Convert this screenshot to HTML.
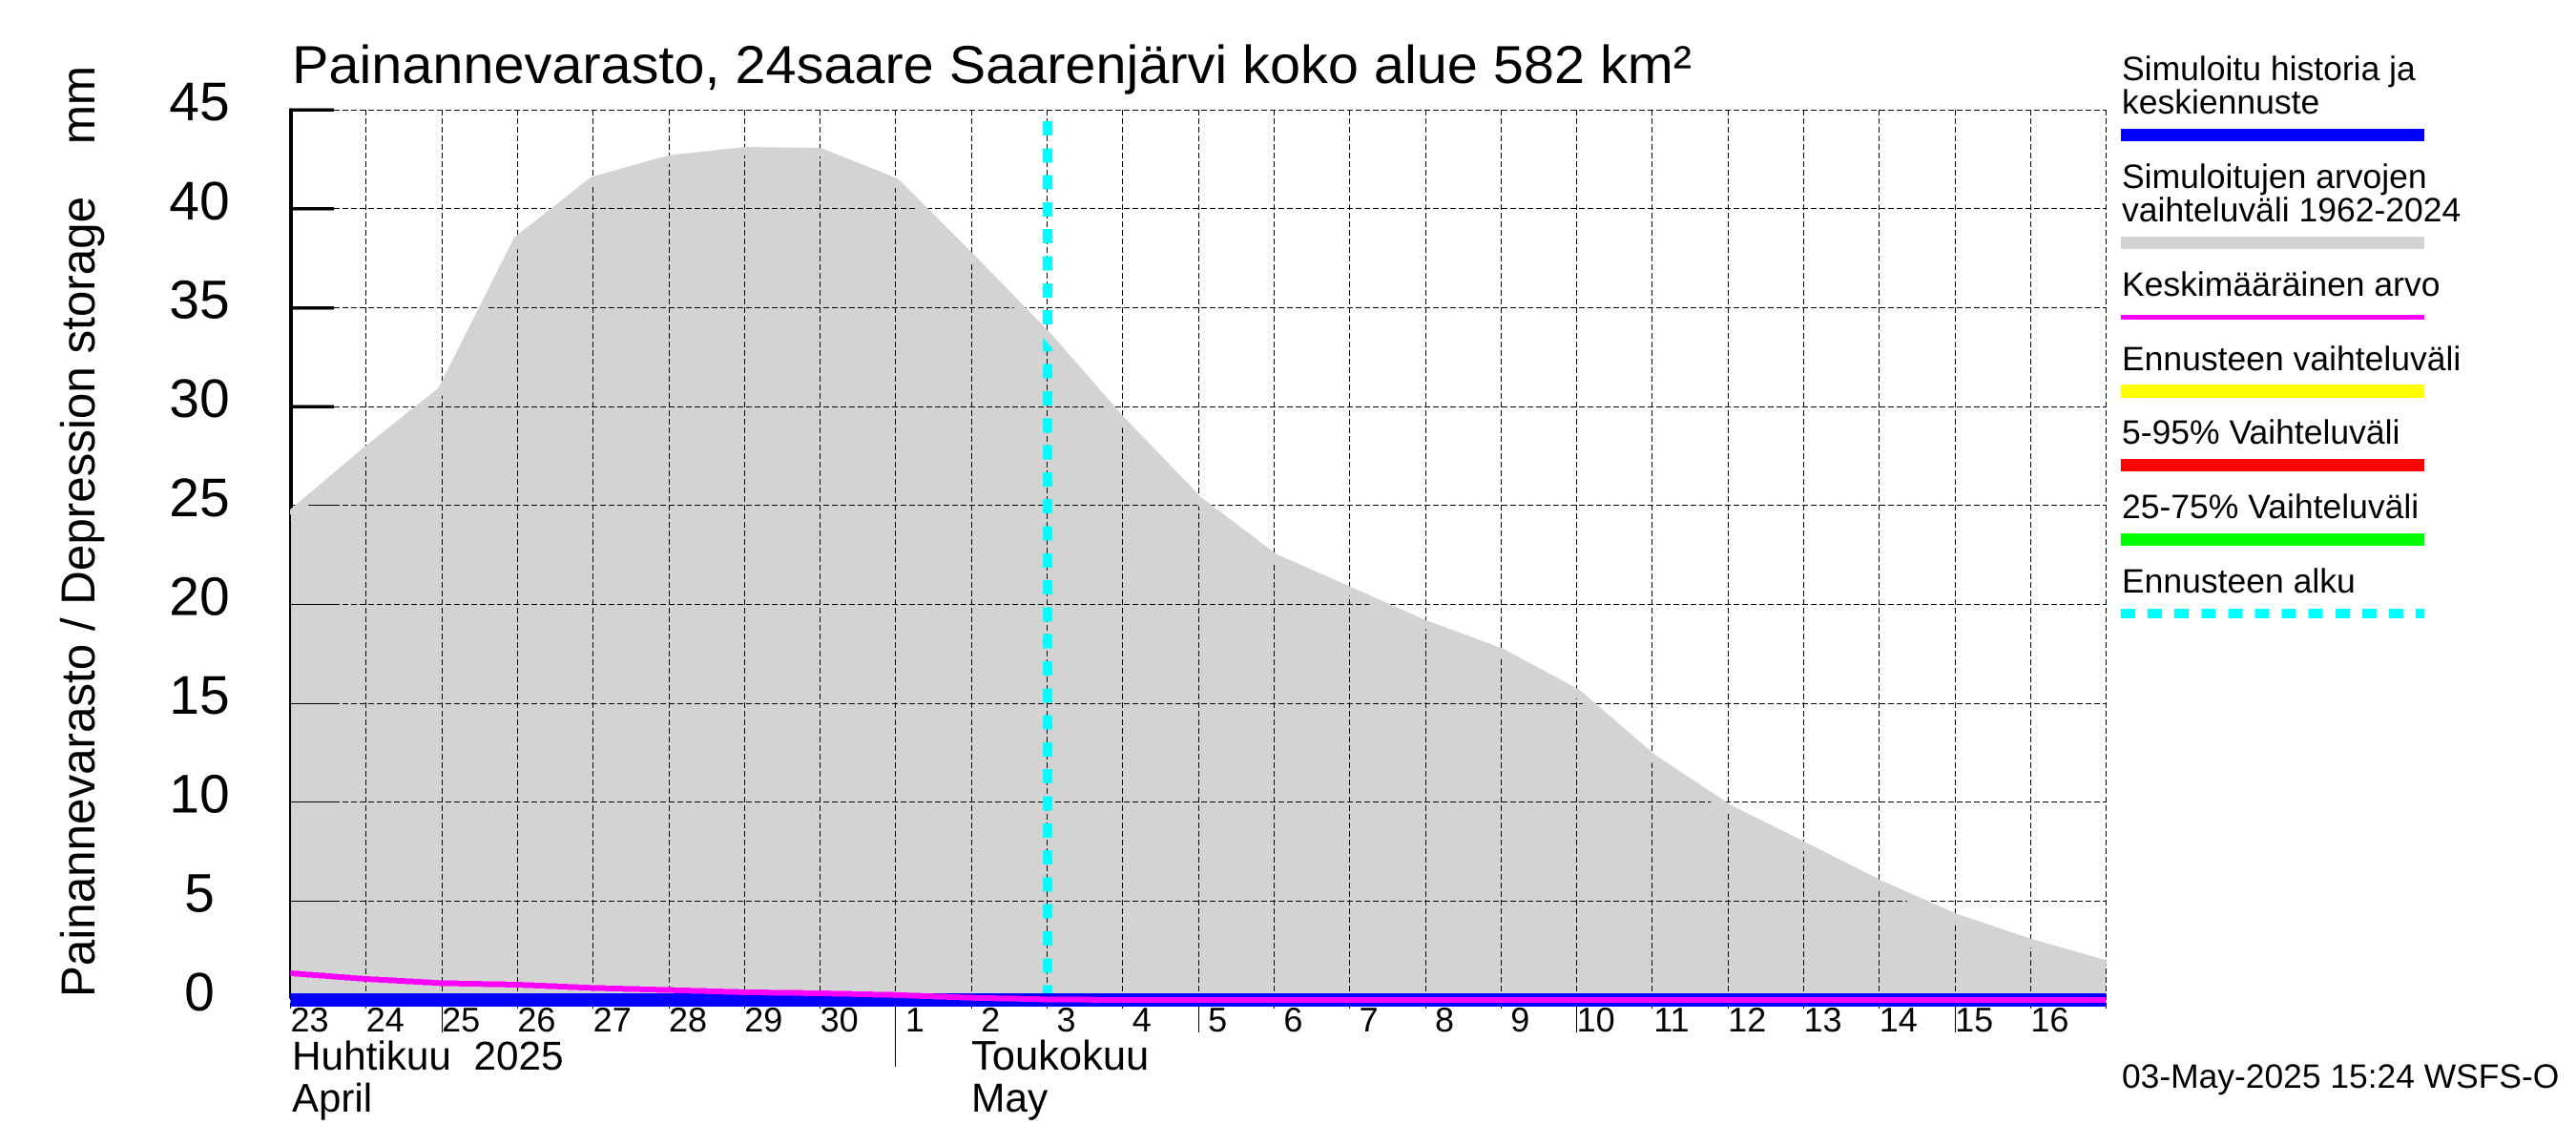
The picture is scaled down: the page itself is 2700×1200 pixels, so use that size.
<!DOCTYPE html>
<html lang="fi">
<head>
<meta charset="utf-8">
<title>Painannevarasto, 24saare Saarenjärvi koko alue 582 km²</title>
<style>
  html, body { margin: 0; padding: 0; background: #fff; }
  svg { display: block; }
  text { font-family: "Liberation Sans", sans-serif; fill: #000; white-space: pre; text-rendering: geometricPrecision; }
</style>
</head>
<body>
<svg id="chart" xmlns="http://www.w3.org/2000/svg" width="2700" height="1200" viewBox="0 0 2700 1200">
  <rect x="0" y="0" width="2700" height="1200" fill="#ffffff"/>
  <defs>
    <clipPath id="plot-clip"><rect x="304" y="100" width="1904.5" height="960"/></clipPath>
  </defs>
  <g id="layer-axis"></g>
  <g id="layer-range-fill"></g>
  <g id="layer-ticks"></g>
  <g id="layer-grid"></g>
  <g id="layer-forecast"></g>
  <g id="layer-range-edge" clip-path="url(#plot-clip)"></g>
  <g id="layer-lines" clip-path="url(#plot-clip)"></g>
  <g id="layer-xticks"></g>
  <g id="layer-labels"></g>

  <text x="306" y="87" font-size="56" textLength="1467" lengthAdjust="spacingAndGlyphs">Painannevarasto, 24saare Saarenjärvi koko alue 582 km²</text>
  <text transform="translate(99 1045) rotate(-90)" x="0" y="0" font-size="50" textLength="976" lengthAdjust="spacingAndGlyphs">Painannevarasto / Depression storage    mm</text>

  <text x="306" y="1121" font-size="42.3">Huhtikuu  2025</text>
  <text x="306" y="1165" font-size="42">April</text>
  <text x="1018" y="1121" font-size="43.5">Toukokuu</text>
  <text x="1018" y="1165" font-size="42.5">May</text>

  <g shape-rendering="crispEdges">
    <g>
      <text x="2224" y="84" font-size="35.5">Simuloitu historia ja</text>
      <text x="2224" y="119" font-size="35.5">keskiennuste</text>
      <rect x="2223" y="135" width="318" height="13" fill="#0000ff"/>
    </g>
    <g>
      <text x="2224" y="197" font-size="35.5">Simuloitujen arvojen</text>
      <text x="2224" y="232" font-size="35.5">vaihteluväli 1962-2024</text>
      <rect x="2223" y="248" width="318" height="13" fill="#d3d3d3"/>
    </g>
    <g>
      <text x="2224" y="310" font-size="35.5">Keskimääräinen arvo</text>
      <rect x="2223" y="330" width="318" height="5" fill="#ff00ff"/>
    </g>
    <g>
      <text x="2224" y="388" font-size="35.5">Ennusteen vaihteluväli</text>
      <rect x="2223" y="403" width="318" height="14" fill="#ffff00"/>
    </g>
    <g>
      <text x="2224" y="465" font-size="35.5">5-95% Vaihteluväli</text>
      <rect x="2223" y="481" width="318" height="13" fill="#ff0000"/>
    </g>
    <g>
      <text x="2224" y="543" font-size="35.5">25-75% Vaihteluväli</text>
      <rect x="2223" y="559" width="318" height="13" fill="#00ff00"/>
    </g>
    <g>
      <text x="2224" y="621" font-size="35.5">Ennusteen alku</text>
      <line x1="2223" y1="643" x2="2541" y2="643" stroke="#00ffff" stroke-width="10" stroke-dasharray="15 13.1"/>
    </g>
  </g>

  <text x="2224" y="1140" font-size="35.4">03-May-2025 15:24 WSFS-O</text>
</svg>

<script>
// Chart data
const dayLabels = ["23","24","25","26","27","28","29","30","1","2","3","4","5","6","7","8","9","10","11","12","13","14","15","16"];
const rangeUpper = [24.53,27.75,30.80,38.41,41.41,42.49,42.91,42.86,41.33,37.51,33.58,29.22,25.25,22.36,20.67,18.98,17.57,15.52,12.23,9.69,7.78,5.85,4.16,2.87,1.78];
const meanValues = [1.35,1.06,0.85,0.77,0.61,0.50,0.39,0.34,0.25,0.11,0.03,0,0,0,0,0,0,0,0,0,0,0,0,0,0];
const simulatedValues = [0,0,0,0,0,0,0,0,0,0,0,0,0,0,0,0,0,0,0,0,0,0,0,0,0];
const yTickValues = [0,5,10,15,20,25,30,35,40,45];
const thickTickMin = [30];
const forecastStartDay = [10];
const fiveDayTicks = [2,12,17,22];
const monthTicks = [8];

const SVG_NS = "http://www.w3.org/2000/svg";
const xAt = d => 304.5 + d * 79.3;
const yAt = v => 1048 - v * 20.73;
const snap = p => Math.round(p - 0.5) + 0.5;
const layer = id => document.getElementById(id);

function make(tag, attrs, parent) {
  const el = document.createElementNS(SVG_NS, tag);
  for (const k in attrs) el.setAttribute(k, attrs[k]);
  parent.appendChild(el);
  return el;
}
function pointsOf(values) {
  return values.map((v, i) => xAt(i).toFixed(1) + "," + yAt(v).toFixed(1)).join(" ");
}

// Upper, thick part of the y axis (the gray area covers the rest)
(function () {
  const p = layer("layer-axis");
  const axis = make("rect", { x: 303, y: yAt(45) - 1.5, width: 4, height: yAt(0) - yAt(45), fill: "#000", "shape-rendering": "crispEdges" }, p);
  
  
  yTickValues.forEach(v => {
    if (v < thickTickMin[0]) return;
    const t = make("rect", { x: 304, y: yAt(v) - 1.7, width: 46, height: 3.5, fill: "#000", "shape-rendering": "crispEdges" }, p);
    
    
  });
})();

// Gray range fill
(function () {
  const p = layer("layer-range-fill");
  const pts = xAt(0).toFixed(1) + "," + yAt(0) + " " + pointsOf(rangeUpper) + " " + xAt(rangeUpper.length - 1).toFixed(1) + "," + yAt(0);
  const area = make("polygon", { points: pts, fill: "#d3d3d3" }, p);
  
  
})();

// Thin ticks inside the gray area
(function () {
  const p = layer("layer-ticks");
  const axisThin = make("line", { x1: snap(xAt(0)), y1: yAt(rangeUpper[0]) + 5, x2: snap(xAt(0)), y2: yAt(0), stroke: "#000", "stroke-width": 1, "shape-rendering": "crispEdges" }, p);
  
  
  yTickValues.forEach(v => {
    if (v >= thickTickMin[0] || v === 0) return;
    const t = make("line", { x1: 304, y1: snap(yAt(v)), x2: 350, y2: snap(yAt(v)), stroke: "#000", "stroke-width": 1, "shape-rendering": "crispEdges" }, p);
    
    
  });
})();

// Dashed grid
(function () {
  const p = layer("layer-grid");
  yTickValues.forEach(v => {
    if (v === 0) return;
    const g = make("line", { x1: 350, y1: snap(yAt(v)), x2: xAt(24), y2: snap(yAt(v)), stroke: "#000", "stroke-width": 1, "stroke-dasharray": "6 3", "shape-rendering": "crispEdges" }, p);
    
    
  });
  for (let d = 0; d <= dayLabels.length; d++) {
    const g = make("line", { x1: snap(xAt(d)), y1: yAt(45), x2: snap(xAt(d)), y2: 1057, stroke: "#000", "stroke-width": 1, "stroke-dasharray": "6 3", "shape-rendering": "crispEdges" }, p);
    
    
  }
})();

// Forecast start (cyan dashed)
(function () {
  const p = layer("layer-forecast");
  const x = xAt(forecastStartDay[0]) + 0.5;
  const l = make("line", { x1: x, y1: 127, x2: x, y2: yAt(0), stroke: "#00ffff", "stroke-width": 10, "stroke-dasharray": "15 13.3", "shape-rendering": "crispEdges" }, p);
  
  
})();

// Gray range edge, drawn over the grid
(function () {
  const p = layer("layer-range-edge");
  const e = make("polyline", { points: pointsOf(rangeUpper), fill: "none", stroke: "#d3d3d3", "stroke-width": 9, "stroke-linejoin": "round" }, p);
  
  
})();

// Blue simulated series and magenta mean
(function () {
  const p = layer("layer-lines");
  const blue = make("polyline", { points: pointsOf(simulatedValues), fill: "none", stroke: "#0000ff", "stroke-width": 14, "shape-rendering": "crispEdges" }, p);
  
  
  const mag = make("polyline", { points: pointsOf(meanValues), fill: "none", stroke: "#ff00ff", "stroke-width": 6, "shape-rendering": "crispEdges" }, p);
  
  
})();

// Solid x ticks
(function () {
  const p = layer("layer-xticks");
  fiveDayTicks.forEach(d => {
    const t = make("line", { x1: snap(xAt(d)), y1: 1055, x2: snap(xAt(d)), y2: 1082, stroke: "#000", "stroke-width": 1, "shape-rendering": "crispEdges" }, p);
    
    
  });
  monthTicks.forEach(d => {
    const t = make("line", { x1: snap(xAt(d)), y1: 1055, x2: snap(xAt(d)), y2: 1118, stroke: "#000", "stroke-width": 1, "shape-rendering": "crispEdges" }, p);
    
    
  });
})();

// Tick labels
(function () {
  const p = layer("layer-labels");
  yTickValues.forEach(v => {
    const t = make("text", { x: 209, y: yAt(v) + 11, "font-size": 57, "text-anchor": "middle" }, p);
    t.textContent = String(v);
    
    
  });
  dayLabels.forEach((lab, d) => {
    const t = make("text", { x: xAt(d) + 20, y: 1081, "font-size": 36, "text-anchor": "middle" }, p);
    t.textContent = lab;
    
    
  });
})();
</script>
</body>
</html>
